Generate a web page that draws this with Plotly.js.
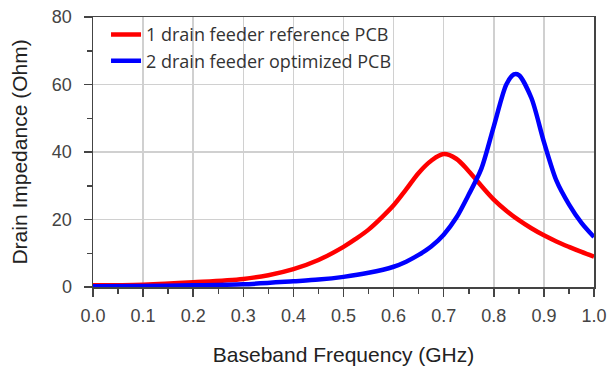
<!DOCTYPE html>
<html>
<head>
<meta charset="utf-8">
<script src="https://cdn.plot.ly/plotly-3.0.1.min.js"></script>
<style>html,body{margin:0;padding:0;background:#fff;}#chart{width:610px;height:372px;}</style>
</head>
<body>
<div id="chart"></div>
<script>
// Data
const refFreq = [0, 0.1, 0.2, 0.3, 0.35, 0.4, 0.45, 0.5, 0.525, 0.55, 0.575, 0.6, 0.625, 0.65, 0.675, 0.7, 0.725, 0.75, 0.775, 0.8, 0.825, 0.85, 0.875, 0.9, 0.925, 0.95, 0.975, 1.0];
const refImpedance = [0.5, 0.7, 1.4, 2.4, 3.5, 5.3, 8.0, 11.9, 14.3, 17.0, 20.4, 24.2, 28.9, 33.8, 37.4, 39.4, 38.0, 34.3, 30.0, 25.9, 22.6, 19.8, 17.4, 15.3, 13.5, 11.9, 10.4, 9.0];
const optFreq = [0, 0.1, 0.2, 0.3, 0.4, 0.45, 0.5, 0.55, 0.6, 0.625, 0.65, 0.675, 0.7, 0.725, 0.75, 0.775, 0.8, 0.825, 0.84, 0.85, 0.875, 0.9, 0.925, 0.95, 0.975, 1.0];
const optImpedance = [0.2, 0.3, 0.5, 0.8, 1.7, 2.2, 3.0, 4.2, 6.0, 7.5, 9.5, 12.0, 15.5, 20.5, 27.4, 35.0, 47.6, 60.0, 63.0, 62.8, 56.0, 43.0, 31.5, 24.5, 19.0, 14.8];
const seriesNames = ["1 drain feeder reference PCB", "2 drain feeder optimized PCB"];
const xTickVals = [0, 0.1, 0.2, 0.3, 0.4, 0.5, 0.6, 0.7, 0.8, 0.9, 1.0];
const xTickText = ["0.0", "0.1", "0.2", "0.3", "0.4", "0.5", "0.6", "0.7", "0.8", "0.9", "1.0"];
const yTickVals = [0, 20, 40, 60, 80];

const traces = [
  {x: refFreq, y: refImpedance, name: seriesNames[0], mode: "lines", legendgroup: "a",
   line: {color: "#ff0000", width: 4.5, shape: "spline", smoothing: 1.0}},
  {x: optFreq, y: optImpedance, name: seriesNames[1], mode: "lines", legendgroup: "b",
   line: {color: "#0000ff", width: 4.5, shape: "spline", smoothing: 0.8}}
];

const axisFont = {family: "Liberation Sans, Arial, sans-serif", size: 18, color: "#444"};
const titleFont = {family: "Liberation Sans, Arial, sans-serif", size: 21, color: "#222"};
const layout = {
  width: 610, height: 372,
  margin: {l: 93, r: 16, t: 17, b: 85},
  paper_bgcolor: "#fff", plot_bgcolor: "#fff",
  showlegend: true,
  legend: {x: 0.026, y: 1.003, xanchor: "left", yanchor: "top", bgcolor: "rgba(0,0,0,0)",
           font: {family: "Open Sans, sans-serif", size: 18, color: "#333"},
           tracegroupgap: 0, itemwidth: 30},
  xaxis: {
    range: [0, 1], tickvals: xTickVals, ticktext: xTickText,
    ticks: "outside", ticklen: 8, tickwidth: 1.5, tickcolor: "#444",
    minor: {dtick: 0.05, ticks: "outside", ticklen: 5, tickwidth: 1.5, tickcolor: "#444", showgrid: false},
    showline: true, mirror: true, linecolor: "#444", linewidth: 1.5,
    showgrid: true, gridcolor: "#d0d0d0", gridwidth: 1.5,
    zeroline: false, tickfont: axisFont, ticklabelstandoff: 4,
    title: {text: "Baseband Frequency (GHz)", standoff: 22, font: titleFont}
  },
  yaxis: {
    range: [0, 80], tickvals: yTickVals,
    ticks: "outside", ticklen: 8, tickwidth: 1.5, tickcolor: "#444",
    minor: {dtick: 10, ticks: "outside", ticklen: 5, tickwidth: 1.5, tickcolor: "#444", showgrid: false},
    showline: true, mirror: true, linecolor: "#444", linewidth: 1.5,
    showgrid: true, gridcolor: "#d0d0d0", gridwidth: 1.5,
    zeroline: false, tickfont: axisFont, ticklabelstandoff: 8,
    title: {text: "Drain Impedance (Ohm)", standoff: 18, font: titleFont}
  }
};
Plotly.newPlot("chart", traces, layout, {staticPlot: true, displayModeBar: false});
</script>
</body>
</html>
